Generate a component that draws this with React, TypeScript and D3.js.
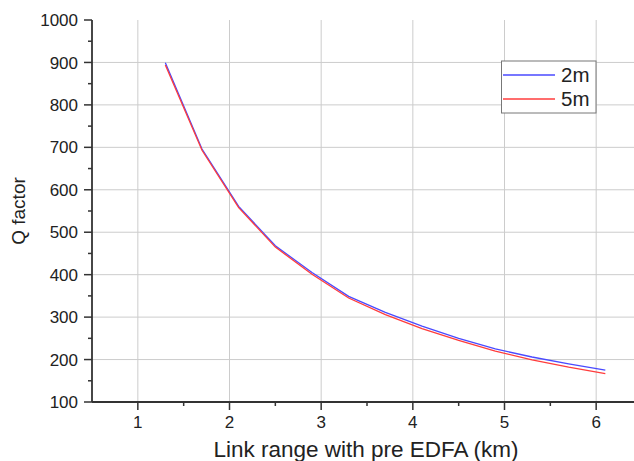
import React from "react";
import * as d3 from "d3";

// link range (km) with pre EDFA
const linkRange = [1.3, 1.7, 2.1, 2.5, 2.9, 3.3, 3.7, 4.1, 4.5, 4.9, 5.3, 5.7, 6.1];
const q2m = [899, 696, 561, 468, 405, 349, 311, 279, 250, 225, 206, 190, 175];
const q5m = [894, 693, 558, 465, 401, 345, 306, 273, 245, 220, 199, 182, 167];

const seriesNames = ["2m", "5m"];
const seriesColors = ["#4a4aff", "#ff3c3c"];

const xMajorTicks = [1, 2, 3, 4, 5, 6];
const xMinorTicks = [1.5, 2.5, 3.5, 4.5, 5.5];
const yMajorTicks = [100, 200, 300, 400, 500, 600, 700, 800, 900, 1000];
const yMinorTicks = [150, 250, 350, 450, 550, 650, 750, 850, 950];

const width = 634;
const height = 461;
const font = "'Liberation Sans', Arial, sans-serif";

const App = () => {
  const margin = { left: 92, top: 20, bottom: 402 };

  const x = d3.scaleLinear().domain([0.5, 6.5]).range([margin.left, 642]);
  const y = d3.scaleLinear().domain([100, 1000]).range([margin.bottom, margin.top]);

  const line = d3
    .line<number>()
    .x((_, i) => x(linkRange[i]))
    .y((d) => y(d));

  const series = [q2m, q5m];
  const axisColor = "#333";
  const gridColor = "#cccccc";

  return (
    <div style={{ position: "absolute", left: 0, top: 0 }}>
      <svg width={width} height={height} style={{ display: "block", background: "#fff" }}>
        {/* grid */}
        <g>
          {yMajorTicks.slice(1, -1).map((t) => (
            <line key={`gy-${t}`} x1={margin.left} x2={width} y1={y(t)} y2={y(t)} stroke={gridColor} strokeWidth={1} />
          ))}
          {xMajorTicks.map((t) => (
            <line key={`gx-${t}`} x1={x(t)} x2={x(t)} y1={margin.top} y2={margin.bottom} stroke={gridColor} strokeWidth={1} />
          ))}
        </g>

        {/* curves */}
        {series.map((s, i) => (
          <path key={seriesNames[i]} d={line(s) || ""} fill="none" stroke={seriesColors[i]} strokeWidth={1.3} />
        ))}

        {/* y axis */}
        <g>
          <line x1={margin.left} x2={margin.left} y1={margin.top} y2={margin.bottom} stroke={axisColor} strokeWidth={1.8} />
          {yMajorTicks.map((t) => (
            <g key={`yt-${t}`}>
              <line x1={margin.left - 8} x2={margin.left} y1={y(t)} y2={y(t)} stroke={axisColor} strokeWidth={1.5} />
              <text x={78} y={y(t)} dy="0.36em" textAnchor="end" fontFamily={font} fontSize={17} fill="#222">
                {t}
              </text>
            </g>
          ))}
          {yMinorTicks.map((t) => (
            <line key={`ym-${t}`} x1={margin.left - 4} x2={margin.left} y1={y(t)} y2={y(t)} stroke={axisColor} strokeWidth={1.5} />
          ))}
          <text
            transform={`translate(25,${(margin.top + margin.bottom) / 2}) rotate(-90)`}
            textAnchor="middle"
            fontFamily={font}
            fontSize={19}
            fill="#222"
          >
            Q factor
          </text>
        </g>

        {/* x axis */}
        <g>
          <line x1={margin.left} x2={width} y1={margin.bottom} y2={margin.bottom} stroke={axisColor} strokeWidth={1.8} />
          {xMajorTicks.map((t) => (
            <g key={`xt-${t}`}>
              <line x1={x(t)} x2={x(t)} y1={margin.bottom} y2={margin.bottom + 8} stroke={axisColor} strokeWidth={1.5} />
              <text x={x(t)} y={428} textAnchor="middle" fontFamily={font} fontSize={17} fill="#222">
                {t}
              </text>
            </g>
          ))}
          {xMinorTicks.map((t) => (
            <line key={`xm-${t}`} x1={x(t)} x2={x(t)} y1={margin.bottom} y2={margin.bottom + 4} stroke={axisColor} strokeWidth={1.5} />
          ))}
          <text x={366} y={457} textAnchor="middle" fontFamily={font} fontSize={22.5} fill="#222">
            Link range with pre EDFA (km)
          </text>
        </g>

        {/* legend */}
        <g>
          <rect x={501.5} y={61} width={94.5} height={52} fill="#fff" stroke="#777" strokeWidth={1} />
          {seriesNames.map((name, i) => (
            <g key={`lg-${name}`}>
              <line x1={503} x2={555} y1={75 + i * 24} y2={75 + i * 24} stroke={seriesColors[i]} strokeWidth={1.3} />
              <text x={561} y={82 + i * 24} fontFamily={font} fontSize={20.5} fill="#222">
                {name}
              </text>
            </g>
          ))}
        </g>
      </svg>
    </div>
  );
};

export default App;
